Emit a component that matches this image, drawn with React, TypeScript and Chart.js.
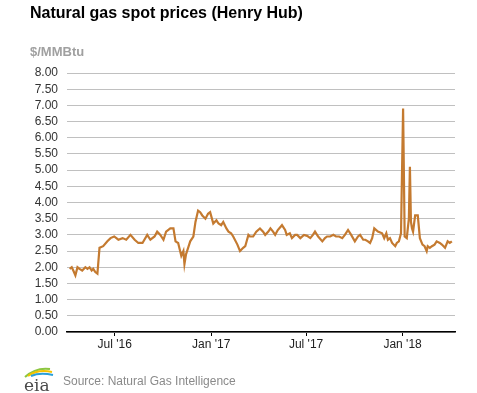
import React, { useEffect, useRef } from "react";
import { Chart, registerables } from "chart.js";

Chart.register(...registerables);

const TITLE = "Natural gas spot prices (Henry Hub)";
const UNIT = "$/MMBtu";
const SOURCE = "Source: Natural Gas Intelligence";

const dates: string[] = [
  "2016-04-06","2016-04-10","2016-04-13","2016-04-17","2016-04-21","2016-04-25","2016-04-30",
  "2016-05-06","2016-05-10","2016-05-14","2016-05-18","2016-05-21","2016-05-25","2016-05-29",
  "2016-06-02","2016-06-09","2016-06-17","2016-06-23","2016-06-30",
  "2016-07-08","2016-07-16","2016-07-23","2016-07-31","2016-08-08","2016-08-15","2016-08-23",
  "2016-09-01","2016-09-07","2016-09-15","2016-09-20","2016-09-26","2016-10-02","2016-10-07",
  "2016-10-15","2016-10-21","2016-10-25","2016-10-30","2016-11-05","2016-11-09","2016-11-11",
  "2016-11-14","2016-11-18","2016-11-22","2016-11-28","2016-12-02","2016-12-07","2016-12-11",
  "2016-12-15","2016-12-21","2016-12-26","2016-12-30",
  "2017-01-05","2017-01-11","2017-01-15","2017-01-20","2017-01-24","2017-01-30","2017-02-03",
  "2017-02-08","2017-02-12","2017-02-20","2017-02-25","2017-03-03","2017-03-07","2017-03-13",
  "2017-03-16","2017-03-22","2017-03-28","2017-04-04","2017-04-10","2017-04-14","2017-04-20",
  "2017-04-24","2017-04-29","2017-05-03","2017-05-08","2017-05-16","2017-05-22","2017-05-25",
  "2017-05-31","2017-06-04","2017-06-10","2017-06-14","2017-06-20","2017-06-27","2017-07-03",
  "2017-07-09","2017-07-14","2017-07-18","2017-07-24","2017-08-01","2017-08-06","2017-08-10",
  "2017-08-16","2017-08-22","2017-08-27","2017-09-02","2017-09-08","2017-09-13","2017-09-19",
  "2017-09-25","2017-10-02","2017-10-08","2017-10-12","2017-10-18","2017-10-22","2017-10-27",
  "2017-10-31","2017-11-04","2017-11-08","2017-11-15","2017-11-23","2017-11-27","2017-12-01",
  "2017-12-04","2017-12-08","2017-12-12","2017-12-18","2017-12-21","2017-12-25","2017-12-29",
  "2018-01-02","2018-01-05","2018-01-09","2018-01-13","2018-01-15","2018-01-17","2018-01-19",
  "2018-01-21","2018-01-25","2018-01-30","2018-02-03","2018-02-08","2018-02-12","2018-02-16",
  "2018-02-18","2018-02-22","2018-02-26","2018-03-03","2018-03-07","2018-03-13","2018-03-17",
  "2018-03-23","2018-03-28","2018-04-01","2018-04-05",
];

const prices: number[] = [
  1.95, 2.0, 1.9, 1.75, 2.0, 1.95, 1.9,
  2.0, 1.95, 2.0, 1.9, 1.95, 1.85, 1.8,
  2.6, 2.65, 2.8, 2.9, 2.95,
  2.85, 2.9, 2.85, 3.0, 2.85, 2.75, 2.75,
  3.0, 2.85, 2.95, 3.1, 3.0, 2.85, 3.1,
  3.2, 3.2, 2.8, 2.75, 2.35, 2.5, 2.1,
  2.4, 2.6, 2.8, 2.95, 3.4, 3.75, 3.7,
  3.6, 3.5, 3.65, 3.7,
  3.35, 3.45, 3.35, 3.3, 3.4, 3.2, 3.1,
  3.05, 2.95, 2.7, 2.5, 2.6, 2.65, 3.0,
  2.95, 2.95, 3.1, 3.2, 3.1, 3.0, 3.1,
  3.2, 3.1, 3.0, 3.15, 3.3, 3.15, 3.0,
  3.05, 2.9, 3.0, 3.0, 2.9, 3.0, 2.97,
  2.9, 3.0, 3.1, 2.95, 2.8, 2.9, 2.95,
  2.95, 3.0, 2.95, 2.95, 2.9, 3.0, 3.15,
  3.0, 2.8, 2.95, 3.0, 2.85, 2.85, 2.8,
  2.75, 2.9, 3.2, 3.1, 3.05, 2.9, 3.05,
  2.85, 2.9, 2.75, 2.65, 2.75, 2.8, 3.05,
  6.9, 2.95, 2.9, 3.5, 5.1, 3.4, 3.2,
  3.1, 3.6, 3.6, 2.9, 2.7, 2.65, 2.5,
  2.65, 2.6, 2.65, 2.7, 2.8, 2.75, 2.7,
  2.6, 2.8, 2.75, 2.8,
];

const xTickDates: string[] = ["2016-07-01", "2017-01-01", "2017-07-01", "2018-01-01"];
const xTickLabels: string[] = ["Jul '16", "Jan '17", "Jul '17", "Jan '18"];
const xRange: string[] = ["2016-04-01", "2018-04-11"];

const DAY = 86400000;
const toDay = (s: string) => {
  const [y, m, d] = s.split("-").map(Number);
  return Date.UTC(y, m - 1, d) / DAY;
};

export default function App() {
  const ref = useRef<HTMLCanvasElement | null>(null);

  useEffect(() => {
    if (!ref.current) return;
    const tickVals = xTickDates.map(toDay);
    const chart = new Chart(ref.current, {
      type: "line",
      data: {
        datasets: [
          {
            data: dates.map((d, i) => ({ x: toDay(d), y: prices[i] })),
            borderColor: "#c47a30",
            borderWidth: 2.2,
            pointRadius: 0,
            tension: 0,
            fill: false,
          },
        ],
      },
      options: {
        animation: false,
        responsive: false,
        maintainAspectRatio: false,
        layout: { padding: { top: 73, right: 22, bottom: 0, left: 0 } },
        plugins: { legend: { display: false }, tooltip: { enabled: false } },
        scales: {
          x: {
            type: "linear",
            min: toDay(xRange[0]),
            max: toDay(xRange[1]),
            afterBuildTicks: (scale: any) => {
              scale.ticks = tickVals.map((v) => ({ value: v }));
            },
            afterFit: (scale: any) => {
              scale.height = 61;
            },
            ticks: {
              autoSkip: false,
              maxRotation: 0,
              padding: 1,
              color: "#222",
              font: { family: "Liberation Sans, Arial, sans-serif", size: 12 },
              callback: (v: any) => {
                const i = tickVals.indexOf(Number(v));
                return i >= 0 ? xTickLabels[i] : "";
              },
            },
            grid: {
              drawOnChartArea: false,
              drawTicks: true,
              tickLength: 4,
              color: "#000",
            },
            border: { display: true, color: "#000", width: 1.5 },
          },
          y: {
            min: 0,
            max: 8,
            afterFit: (scale: any) => {
              scale.width = 67;
            },
            ticks: {
              stepSize: 0.5,
              autoSkip: false,
              padding: 9,
              color: "#333",
              font: { family: "Liberation Sans, Arial, sans-serif", size: 12 },
              callback: (v: any) => Number(v).toFixed(2),
            },
            grid: {
              color: "#c0c0c0",
              lineWidth: 1,
              drawTicks: false,
            },
            border: { display: false },
          },
        },
      },
    });
    return () => chart.destroy();
  }, []);

  return (
    <div
      style={{
        position: "fixed",
        left: 0,
        top: 0,
        width: 477,
        height: 393,
        background: "#fff",
        fontFamily: "Liberation Sans, Arial, sans-serif",
      }}
    >
      <canvas ref={ref} width={477} height={393} style={{ position: "absolute", left: 0, top: 0 }} />
      <div
        style={{
          position: "absolute",
          left: 30,
          top: 4,
          fontSize: 16,
          fontWeight: "bold",
          color: "#000",
          whiteSpace: "nowrap",
        }}
      >
        {TITLE}
      </div>
      <div
        style={{
          position: "absolute",
          left: 30,
          top: 44,
          fontSize: 13,
          fontWeight: "bold",
          color: "#a0a0a0",
        }}
      >
        {UNIT}
      </div>
      <svg
        style={{ position: "absolute", left: 22, top: 365 }}
        width={34}
        height={28}
        viewBox="0 0 34 28"
      >
        <path d="M3 12 Q14 2 28 4" stroke="#8dc63f" strokeWidth={2} fill="none" />
        <path d="M6 11 Q16 4 30 7" stroke="#f5c400" strokeWidth={2} fill="none" />
        <path d="M9 11 Q18 7 31 10" stroke="#2a9fd8" strokeWidth={2} fill="none" />
        <text x={2} y={26} fontFamily="DejaVu Serif, serif" fontSize={17} fill="#4a4a4a">
          eia
        </text>
      </svg>
      <div
        style={{
          position: "absolute",
          left: 63,
          top: 374,
          fontSize: 12,
          color: "#8a8a8a",
          whiteSpace: "nowrap",
        }}
      >
        {SOURCE}
      </div>
    </div>
  );
}
